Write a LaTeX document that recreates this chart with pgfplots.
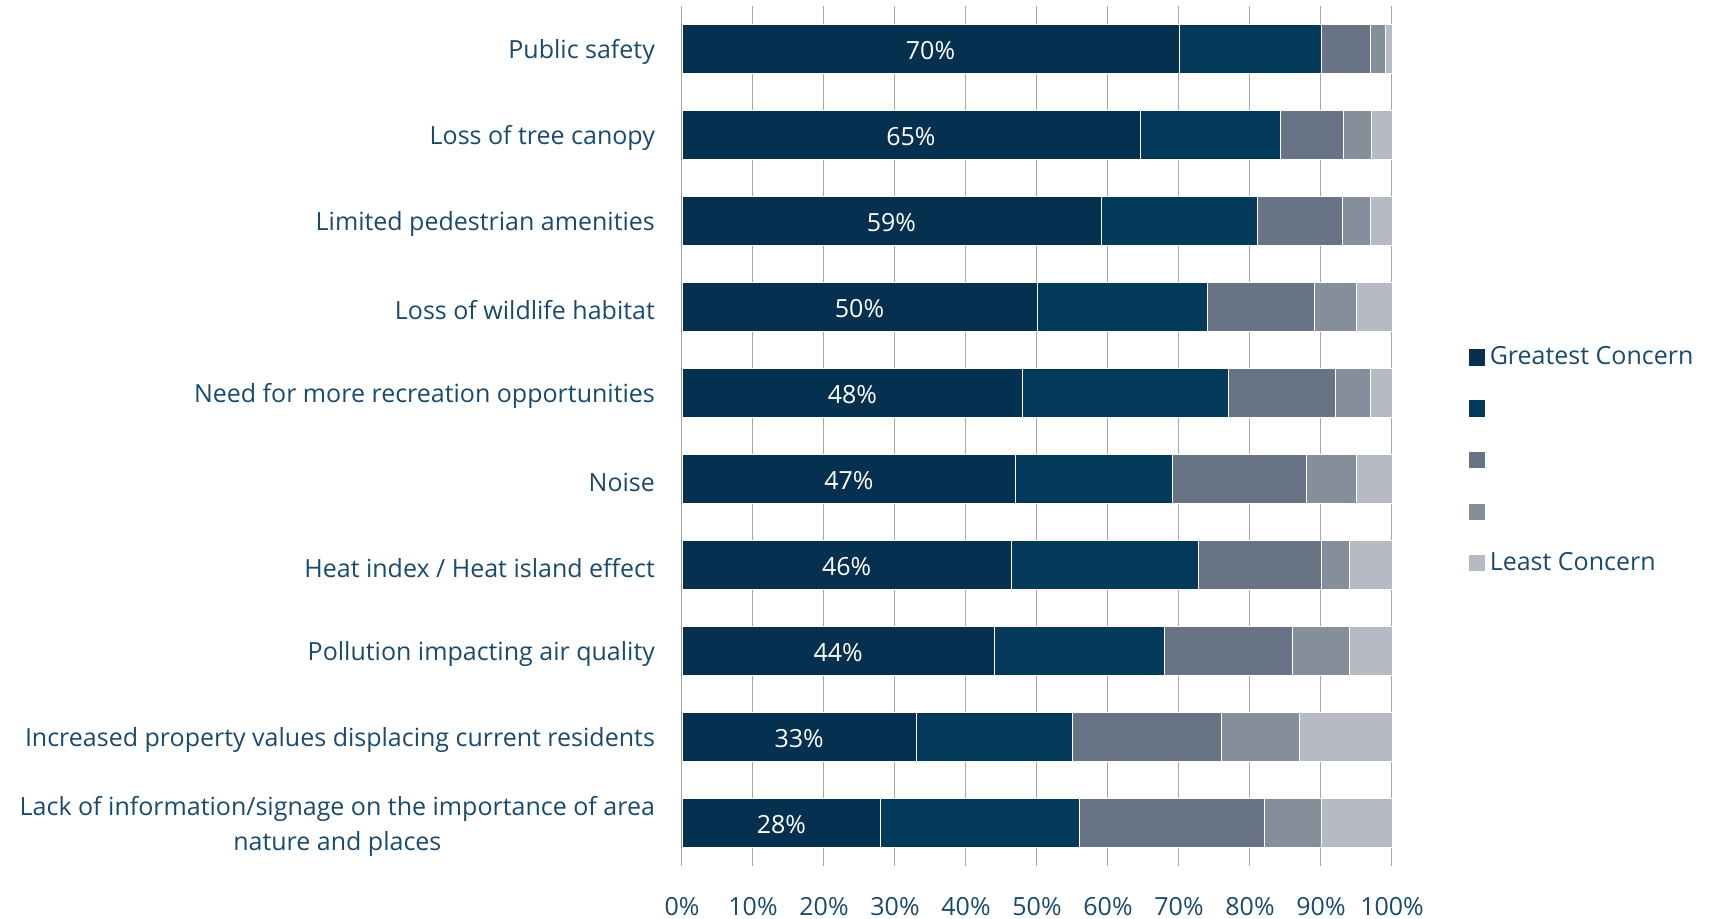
\documentclass[border=0pt]{standalone}
\usepackage{fontspec}
\setmainfont{Open Sans}
\usepackage{pgfplots}
\pgfplotsset{compat=1.18}
\usepackage{pgfplotstable}
\definecolor{c1}{HTML}{06304F}
\definecolor{c2}{HTML}{033A5C}
\definecolor{c3}{HTML}{687385}
\definecolor{c4}{HTML}{858F9B}
\definecolor{c5}{HTML}{B5BAC3}
\definecolor{txt}{HTML}{1A4A6E}
\definecolor{gridc}{HTML}{A6A6A6}

\pgfplotstableread{
y a b c d e
0 70 20 7 2 1
1 64.5 19.7 8.9 4 2.9
2 59 22 12 4 3
3 50 24 15 6 5
4 48 29 15 5 3
5 47 22 19 7 5
6 46.4 26.3 17.3 4 6
7 44 24 18 8 6
8 33 22 21 11 13
9 28 28 26 8 10
}\data

\pgfplotstableread{
y x lab
0 35 70
1 32.25 65
2 29.5 59
3 25 50
4 24 48
5 23.5 47
6 23.2 46
7 22 44
8 16.5 33
9 14 28
}\labs

\begin{document}
\begin{tikzpicture}
\path[use as bounding box] (-341pt,-26pt) rectangle (513.5pt,433pt);
\begin{axis}[
  at={(0,0)}, anchor=south west,
  scale only axis, width=355pt, height=430pt,
  xbar stacked, bar width=24.5pt,
  xmin=0, xmax=100, ymin=-0.5, ymax=9.5, y dir=reverse,
  xtick={0,10,...,100},
  xticklabel={\pgfmathprintnumber{\tick}\%},
  /pgf/number format/assume math mode=true,
  ytick={0,...,9},
  yticklabels={Public safety, Loss of tree canopy, Limited pedestrian amenities, Loss of wildlife habitat, Need for more recreation opportunities, Noise, Heat index / Heat island effect, Pollution impacting air quality, Increased property values displacing current residents, {Lack of information/signage on the importance of area\\nature and places}},
  axis line style={draw=none},
  tick style={draw=none},
  xmajorgrids,
  major grid style={color=gridc, line width=0.5pt},
  tick label style={font=\fontsize{12.5}{17.5}\selectfont, text=txt},
  yticklabel style={align=center, xshift=-10pt, yshift=-1.5pt},
  xticklabel style={yshift=-12pt},
  legend style={draw=none, fill=none, at={(1.098,0.472)}, anchor=west,
    font=\fontsize{12.5}{14}\selectfont, text=txt, row sep=10.6pt,
    /tikz/every even column/.append style={column sep=2pt}},
  legend cell align=left,
  legend image code/.code={\fill[#1] (0pt,-4.3pt) rectangle (8.6pt,4.3pt);},
]
\addplot[fill=c1, draw=white, line width=0.3pt] table[x=a,y=y]{\data};
\addlegendentry{Greatest Concern}
\addplot[fill=c2, draw=white, line width=0.3pt] table[x=b,y=y]{\data};
\addlegendentry{\strut}
\addplot[fill=c3, draw=white, line width=0.3pt] table[x=c,y=y]{\data};
\addlegendentry{\strut}
\addplot[fill=c4, draw=white, line width=0.3pt] table[x=d,y=y]{\data};
\addlegendentry{\strut}
\addplot[fill=c5, draw=white, line width=0.3pt] table[x=e,y=y]{\data};
\addlegendentry{Least Concern}
\end{axis}
\begin{axis}[
  at={(0,0)}, anchor=south west,
  scale only axis, width=355pt, height=430pt,
  xmin=0, xmax=100, ymin=-0.5, ymax=9.5, y dir=reverse,
  hide axis,
  /pgf/number format/assume math mode=true,
]
\addplot[draw=none, mark=none, point meta=explicit,
  nodes near coords={\pgfmathprintnumber{\pgfplotspointmeta}\%},
  every node near coord/.append style={anchor=center, text=white, yshift=-1pt, font=\fontsize{12.5}{14}\selectfont}]
  table[x=x,y=y,meta=lab]{\labs};
\end{axis}
\end{tikzpicture}
\end{document}
